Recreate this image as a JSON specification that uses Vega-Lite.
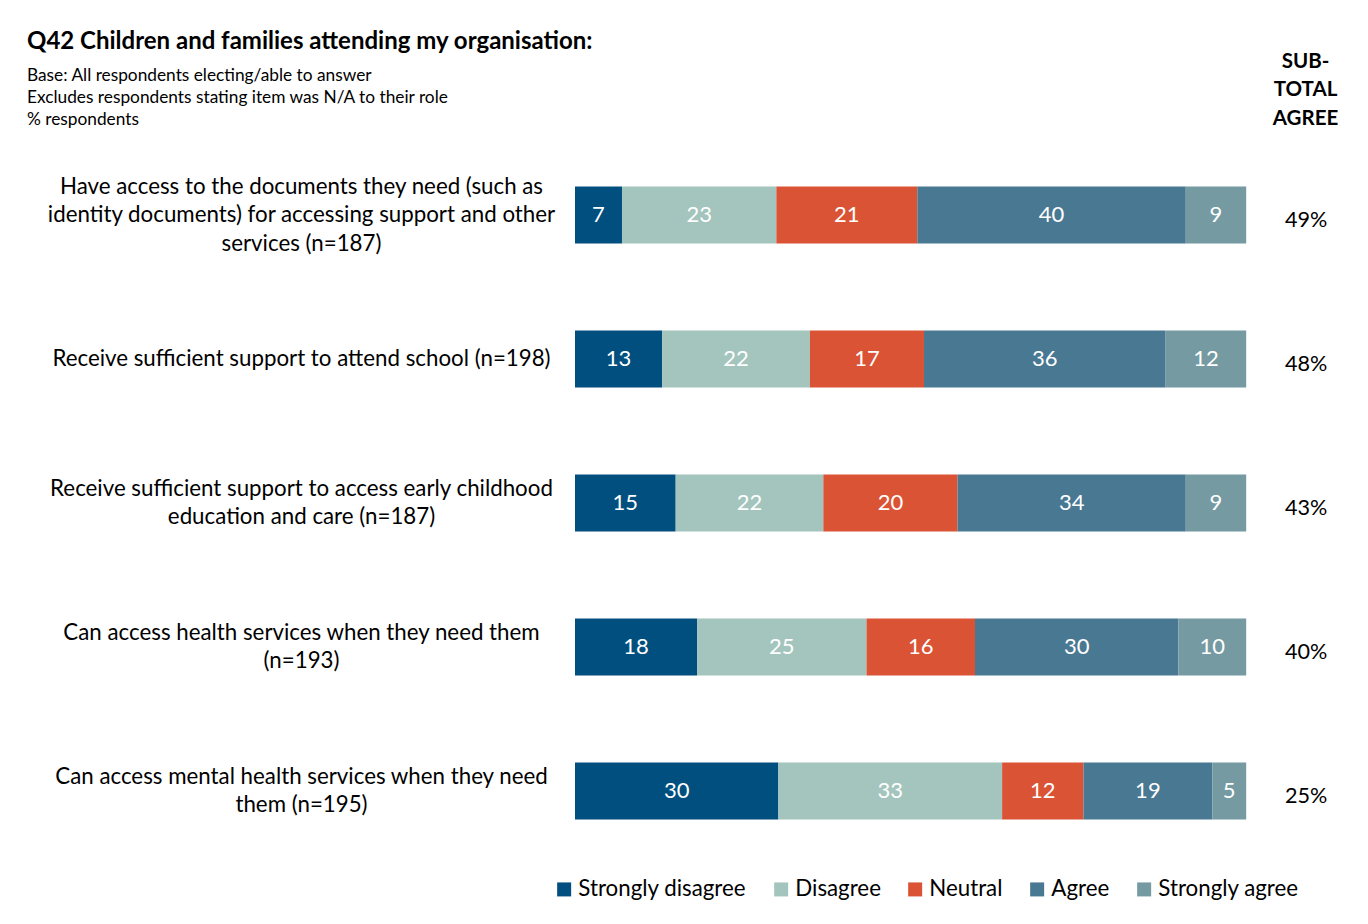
{
  "$schema": "https://vega.github.io/schema/vega-lite/v6.json",
  "width": 792,
  "height": 720,
  "autosize": "none",
  "padding": {"left": 575, "top": 143, "right": 1, "bottom": 61},
  "background": "white",
  "config": {"font": "Lato", "view": {"stroke": null}},
  "title": {
    "text": "Q42 Children and families attending my organisation:",
    "subtitle": ["Base: All respondents electing/able to answer", "Excludes respondents stating item was N/A to their role", "% respondents"],
    "anchor": "start",
    "frame": "group",
    "dx": -548,
    "dy": 77,
    "offset": 0,
    "fontSize": 24,
    "fontWeight": "bold",
    "color": "#000000",
    "subtitleFontSize": 17.3,
    "subtitleColor": "#000000",
    "subtitleLineHeight": 22,
    "subtitlePadding": 13
  },
  "datasets": {
    "responses": [
      {"question": "Have access to the documents they need (such as|identity documents) for accessing support and other|services (n=187)", "response": "Strongly disagree", "value": 7},
      {"question": "Have access to the documents they need (such as|identity documents) for accessing support and other|services (n=187)", "response": "Disagree", "value": 23},
      {"question": "Have access to the documents they need (such as|identity documents) for accessing support and other|services (n=187)", "response": "Neutral", "value": 21},
      {"question": "Have access to the documents they need (such as|identity documents) for accessing support and other|services (n=187)", "response": "Agree", "value": 40},
      {"question": "Have access to the documents they need (such as|identity documents) for accessing support and other|services (n=187)", "response": "Strongly agree", "value": 9},
      {"question": "Receive sufficient support to attend school (n=198)", "response": "Strongly disagree", "value": 13},
      {"question": "Receive sufficient support to attend school (n=198)", "response": "Disagree", "value": 22},
      {"question": "Receive sufficient support to attend school (n=198)", "response": "Neutral", "value": 17},
      {"question": "Receive sufficient support to attend school (n=198)", "response": "Agree", "value": 36},
      {"question": "Receive sufficient support to attend school (n=198)", "response": "Strongly agree", "value": 12},
      {"question": "Receive sufficient support to access early childhood|education and care (n=187)", "response": "Strongly disagree", "value": 15},
      {"question": "Receive sufficient support to access early childhood|education and care (n=187)", "response": "Disagree", "value": 22},
      {"question": "Receive sufficient support to access early childhood|education and care (n=187)", "response": "Neutral", "value": 20},
      {"question": "Receive sufficient support to access early childhood|education and care (n=187)", "response": "Agree", "value": 34},
      {"question": "Receive sufficient support to access early childhood|education and care (n=187)", "response": "Strongly agree", "value": 9},
      {"question": "Can access health services when they need them|(n=193)", "response": "Strongly disagree", "value": 18},
      {"question": "Can access health services when they need them|(n=193)", "response": "Disagree", "value": 25},
      {"question": "Can access health services when they need them|(n=193)", "response": "Neutral", "value": 16},
      {"question": "Can access health services when they need them|(n=193)", "response": "Agree", "value": 30},
      {"question": "Can access health services when they need them|(n=193)", "response": "Strongly agree", "value": 10},
      {"question": "Can access mental health services when they need|them (n=195)", "response": "Strongly disagree", "value": 30},
      {"question": "Can access mental health services when they need|them (n=195)", "response": "Disagree", "value": 33},
      {"question": "Can access mental health services when they need|them (n=195)", "response": "Neutral", "value": 12},
      {"question": "Can access mental health services when they need|them (n=195)", "response": "Agree", "value": 19},
      {"question": "Can access mental health services when they need|them (n=195)", "response": "Strongly agree", "value": 5}
    ],
    "subtotal": [
      {"question": "Have access to the documents they need (such as|identity documents) for accessing support and other|services (n=187)", "label": "49%"},
      {"question": "Receive sufficient support to attend school (n=198)", "label": "48%"},
      {"question": "Receive sufficient support to access early childhood|education and care (n=187)", "label": "43%"},
      {"question": "Can access health services when they need them|(n=193)", "label": "40%"},
      {"question": "Can access mental health services when they need|them (n=195)", "label": "25%"}
    ]
  },
  "layer": [
    {
      "data": {"name": "responses"},
      "transform": [
        {"stack": "value", "groupby": ["question"], "offset": "normalize", "as": ["x0", "x1"]}
      ],
      "mark": {"type": "bar"},
      "encoding": {
        "x": {
          "field": "x0", "type": "quantitative",
          "scale": {"domain": [0, 1.18], "nice": false, "zero": false},
          "title": ["SUB-", "TOTAL", "AGREE"],
          "axis": {
            "orient": "top", "labels": false, "ticks": false, "domain": false, "grid": false,
            "titleX": 730, "titleY": -92, "titleAlign": "center", "titleBaseline": "top",
            "titleFontSize": 20.5, "titleFontWeight": "bold", "titleLineHeight": 28.5, "titleColor": "#000000"
          }
        },
        "x2": {"field": "x1"},
        "y": {
          "field": "question", "type": "nominal", "sort": null,
          "scale": {"paddingInner": 0.604, "paddingOuter": 0.302},
          "axis": {
            "title": null, "labelExpr": "split(datum.label, '|')", "labelAlign": "center",
            "labelBaseline": "middle", "labelPadding": 274, "ticks": false, "tickSize": 0,
            "domain": false, "labelFontSize": 22.3, "labelLineHeight": 28.5, "labelLimit": 0,
            "labelColor": "#000000",
            "labelOffset": {
              "condition": [
                {"test": "indexof(datum.value, '|') < 0", "value": 0},
                {"test": "length(split(datum.value, '|')) == 2", "value": -14.25}
              ],
              "value": -28.5
            }
          }
        },
        "color": {
          "field": "response", "type": "nominal",
          "scale": {
            "domain": ["Strongly disagree", "Disagree", "Neutral", "Agree", "Strongly agree"],
            "range": ["#004f7f", "#a4c5bd", "#db5335", "#497893", "#759aa2"]
          },
          "legend": {
            "orient": "none", "legendX": -22, "legendY": 735, "direction": "horizontal",
            "columns": 5, "title": null, "symbolType": "square", "symbolSize": 196,
            "symbolStrokeWidth": 0, "labelFontSize": 22.3, "labelColor": "#000000",
            "labelLimit": 400, "columnPadding": 23, "labelOffset": 3
          }
        }
      }
    },
    {
      "data": {"name": "responses"},
      "transform": [
        {"stack": "value", "groupby": ["question"], "offset": "normalize", "as": ["x0", "x1"]},
        {"calculate": "(datum.x0 + datum.x1) / 2", "as": "xm"}
      ],
      "mark": {"type": "text", "color": "white", "fontSize": 22, "align": "center", "baseline": "middle"},
      "encoding": {
        "x": {"field": "xm", "type": "quantitative", "title": ["SUB-", "TOTAL", "AGREE"]},
        "y": {"field": "question", "type": "nominal", "sort": null},
        "text": {"field": "value", "type": "quantitative"}
      }
    },
    {
      "data": {"name": "subtotal"},
      "mark": {"type": "text", "color": "#000000", "fontSize": 21.6, "align": "center", "baseline": "middle", "dy": 6},
      "encoding": {
        "x": {"datum": 1.0894, "type": "quantitative", "title": ["SUB-", "TOTAL", "AGREE"]},
        "y": {"field": "question", "type": "nominal", "sort": null},
        "text": {"field": "label", "type": "nominal"}
      }
    }
  ]
}
